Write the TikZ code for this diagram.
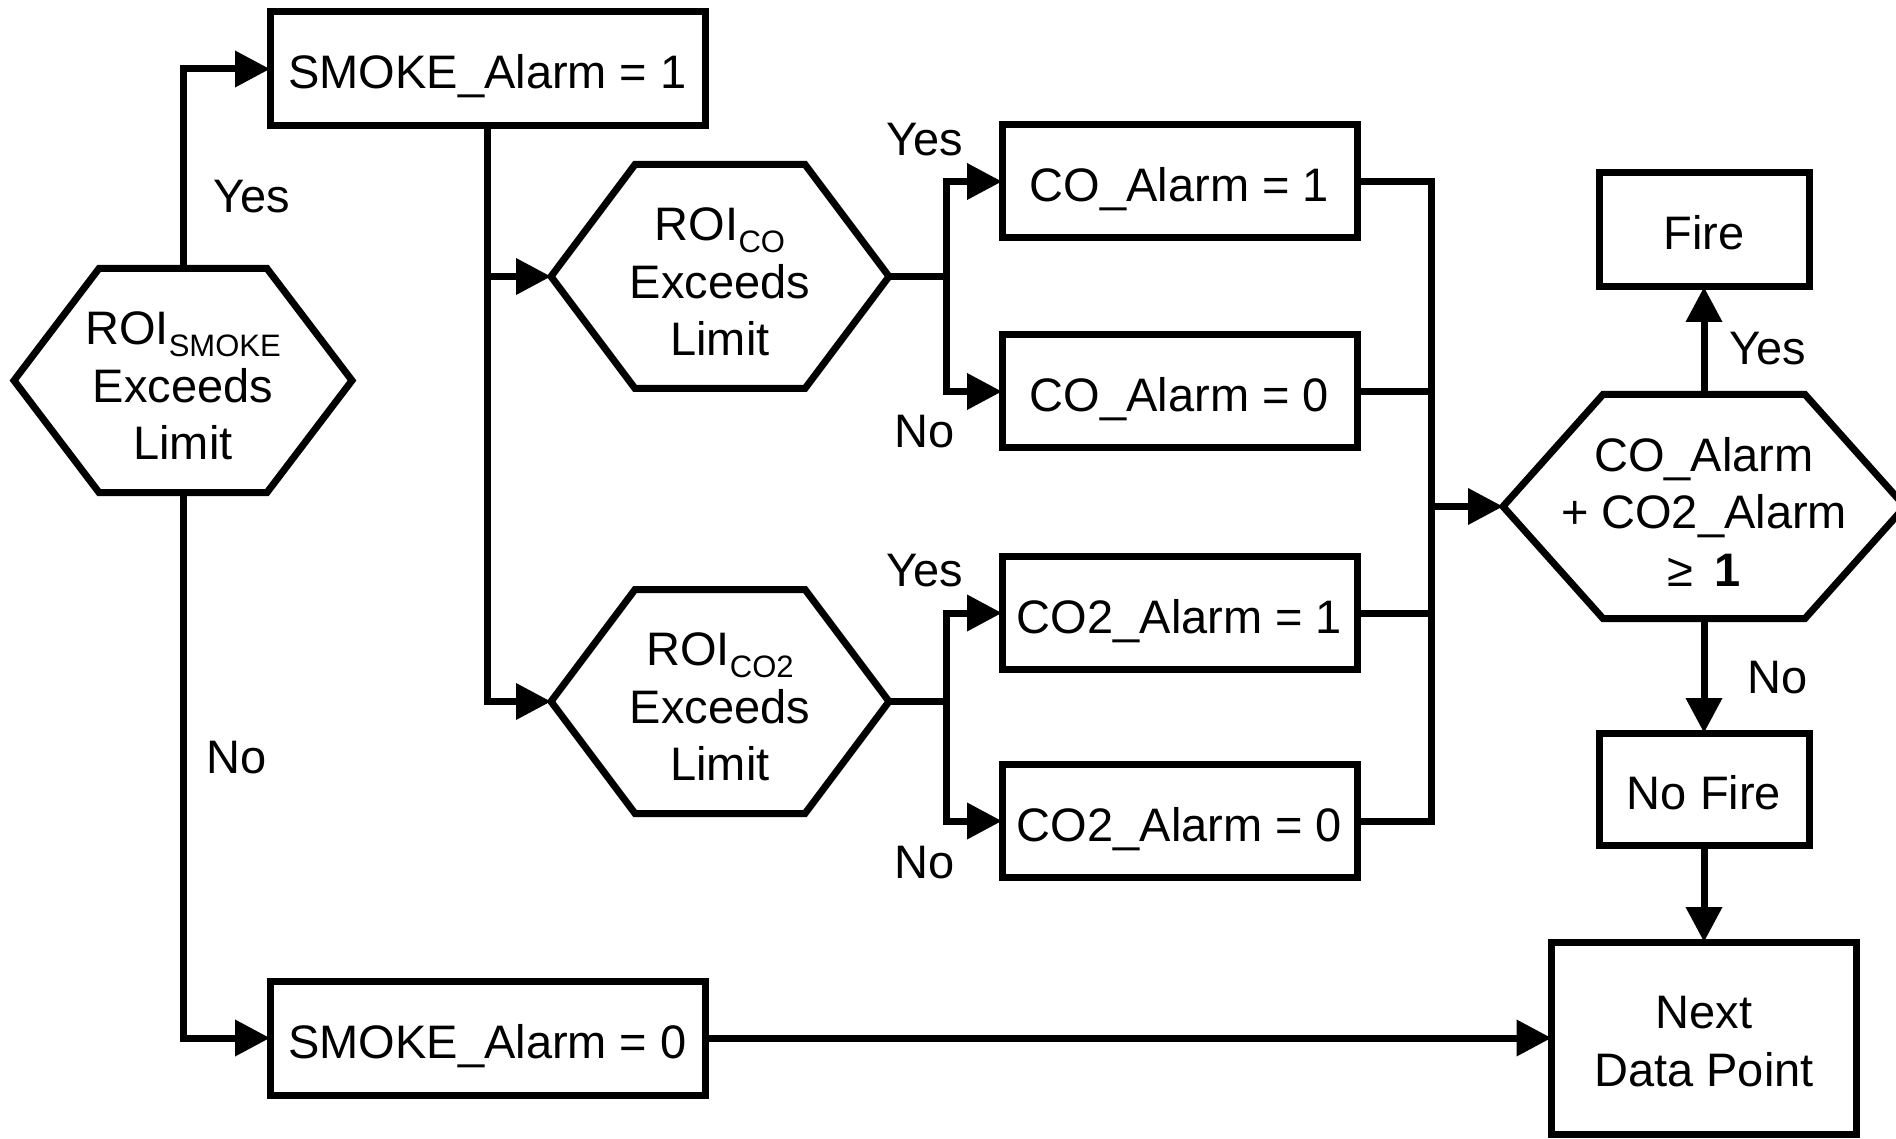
\documentclass[tikz,border=0pt]{standalone}
\usepackage{fontspec}
\setmainfont{Liberation Sans}
\usetikzlibrary{arrows.meta,calc}
\newcommand\roisub[1]{\raisebox{-12pt}{\fontsize{31}{31}\selectfont #1}}
\newcommand\topstrut[1]{\rule{0pt}{#1}}
\newcommand\hexdraw[2]{\draw[lw] (#1.west) -- ([xshift=#2]#1.north west) -- ([xshift=-#2]#1.north east) -- (#1.east) -- ([xshift=-#2]#1.south east) -- ([xshift=#2]#1.south west) -- cycle;}
\begin{document}
\begin{tikzpicture}[x=1pt,y=-1pt,
  every node/.style={font=\fontsize{47}{57.5}\selectfont},
  lw/.style={line width=7pt,line join=miter},
  box/.style={draw,lw,minimum width=#1,minimum height=113pt,inner sep=0pt,outer sep=0pt},
  onebox/.style={box=#1,text height=40pt,text depth=0pt},
  hexnode/.style={minimum width=#1,minimum height=224pt,inner sep=0pt,outer sep=0pt,align=center},
  conn/.style={lw},
  arr/.style={lw,-{Triangle[length=35pt,width=35pt]}},
  lbl/.style={inner sep=0pt}]
\useasboundingbox (0,0) rectangle (1896,1139);
\clip (0,0) rectangle (1896,1139);
\fill[white] (0,0) rectangle (1896,1139);
% nodes
\node[onebox=435pt,minimum height=114pt] (sm1) at (487.5,69) {SMOKE\_Alarm = 1};
\node[onebox=435pt,minimum height=114pt] (sm0) at (487.5,1038) {SMOKE\_Alarm = 0};
\node[hexnode=338pt] (hsm) at (183,380.5) {\topstrut{44pt}ROI\roisub{SMOKE}\\Exceeds\\Limit};
\node[hexnode=338pt] (hco) at (720,276.5) {\topstrut{44pt}ROI\roisub{CO}\\Exceeds\\Limit};
\node[hexnode=338pt] (hco2) at (720,701.5) {\topstrut{44pt}ROI\roisub{CO2}\\Exceeds\\Limit};
\node[onebox=355pt] (co1) at (1179.5,181.5) {CO\_Alarm = 1};
\node[onebox=355pt] (co0) at (1179.5,391.5) {CO\_Alarm = 0};
\node[onebox=355pt] (co21) at (1179.5,613) {CO2\_Alarm = 1};
\node[onebox=355pt] (co20) at (1179.5,821) {CO2\_Alarm = 0};
\node[hexnode=402pt] (hsum) at (1704,506.5) {\topstrut{44pt}CO\_Alarm\\+ CO2\_Alarm\\≥\hspace{0.45em}\textbf{1}};
\node[onebox=210pt,minimum height=114pt] (fire) at (1704,230) {Fire};
\node[onebox=210pt,minimum height=112pt] (nofire) at (1704,789) {No Fire};
\node[box=305pt,minimum height=192pt,align=center] (next) at (1704,1038) {\topstrut{39pt}Next\\Data Point};
\hexdraw{hsm}{85pt}
\hexdraw{hco}{84pt}
\hexdraw{hco2}{84pt}
\hexdraw{hsum}{100pt}
% junctions
\coordinate (j1) at (946,276.5);
\coordinate (j2) at (946,701.5);
\coordinate (cx) at (1431,506.5);
% connectors
\draw[arr] (hsm.north) |- (sm1.west);
\draw[arr] (hsm.south) |- (sm0.west);
\draw[arr] (sm1.south) |- (hco2.west);
\draw[arr] (sm1.south |- hco.west) -- (hco.west);
\draw[conn] (hco.east) -- (j1);
\draw[arr] (j1) |- (co1.west);
\draw[arr] (j1) |- (co0.west);
\draw[conn] (hco2.east) -- (j2);
\draw[arr] (j2) |- (co21.west);
\draw[arr] (j2) |- (co20.west);
\draw[conn] (co1.east) -- (co1.east -| cx) -- (co20.east -| cx) -- (co20.east);
\draw[conn] (co0.east) -- (co0.east -| cx);
\draw[conn] (co21.east) -- (co21.east -| cx);
\draw[arr] (cx) -- (hsum.west);
\draw[arr] (hsum.north) -- (fire.south);
\draw[arr] (hsum.south) -- (nofire.north);
\draw[arr] (nofire.south) -- (next.north);
\draw[arr] (sm0.east) -- (next.west);
% labels
\node[lbl] (y1) at (251.5,197) {Yes};
\node[lbl] (n1) at (237,758) {No};
\node[lbl] (y2) at (925,140) {Yes};
\node[lbl] (n2) at (925,432) {No};
\node[lbl] (y3) at (925,571) {Yes};
\node[lbl] (n3) at (925,863) {No};
\node[lbl] (y4) at (1768,349) {Yes};
\node[lbl] (n4) at (1777.5,678) {No};
\end{tikzpicture}
\end{document}
